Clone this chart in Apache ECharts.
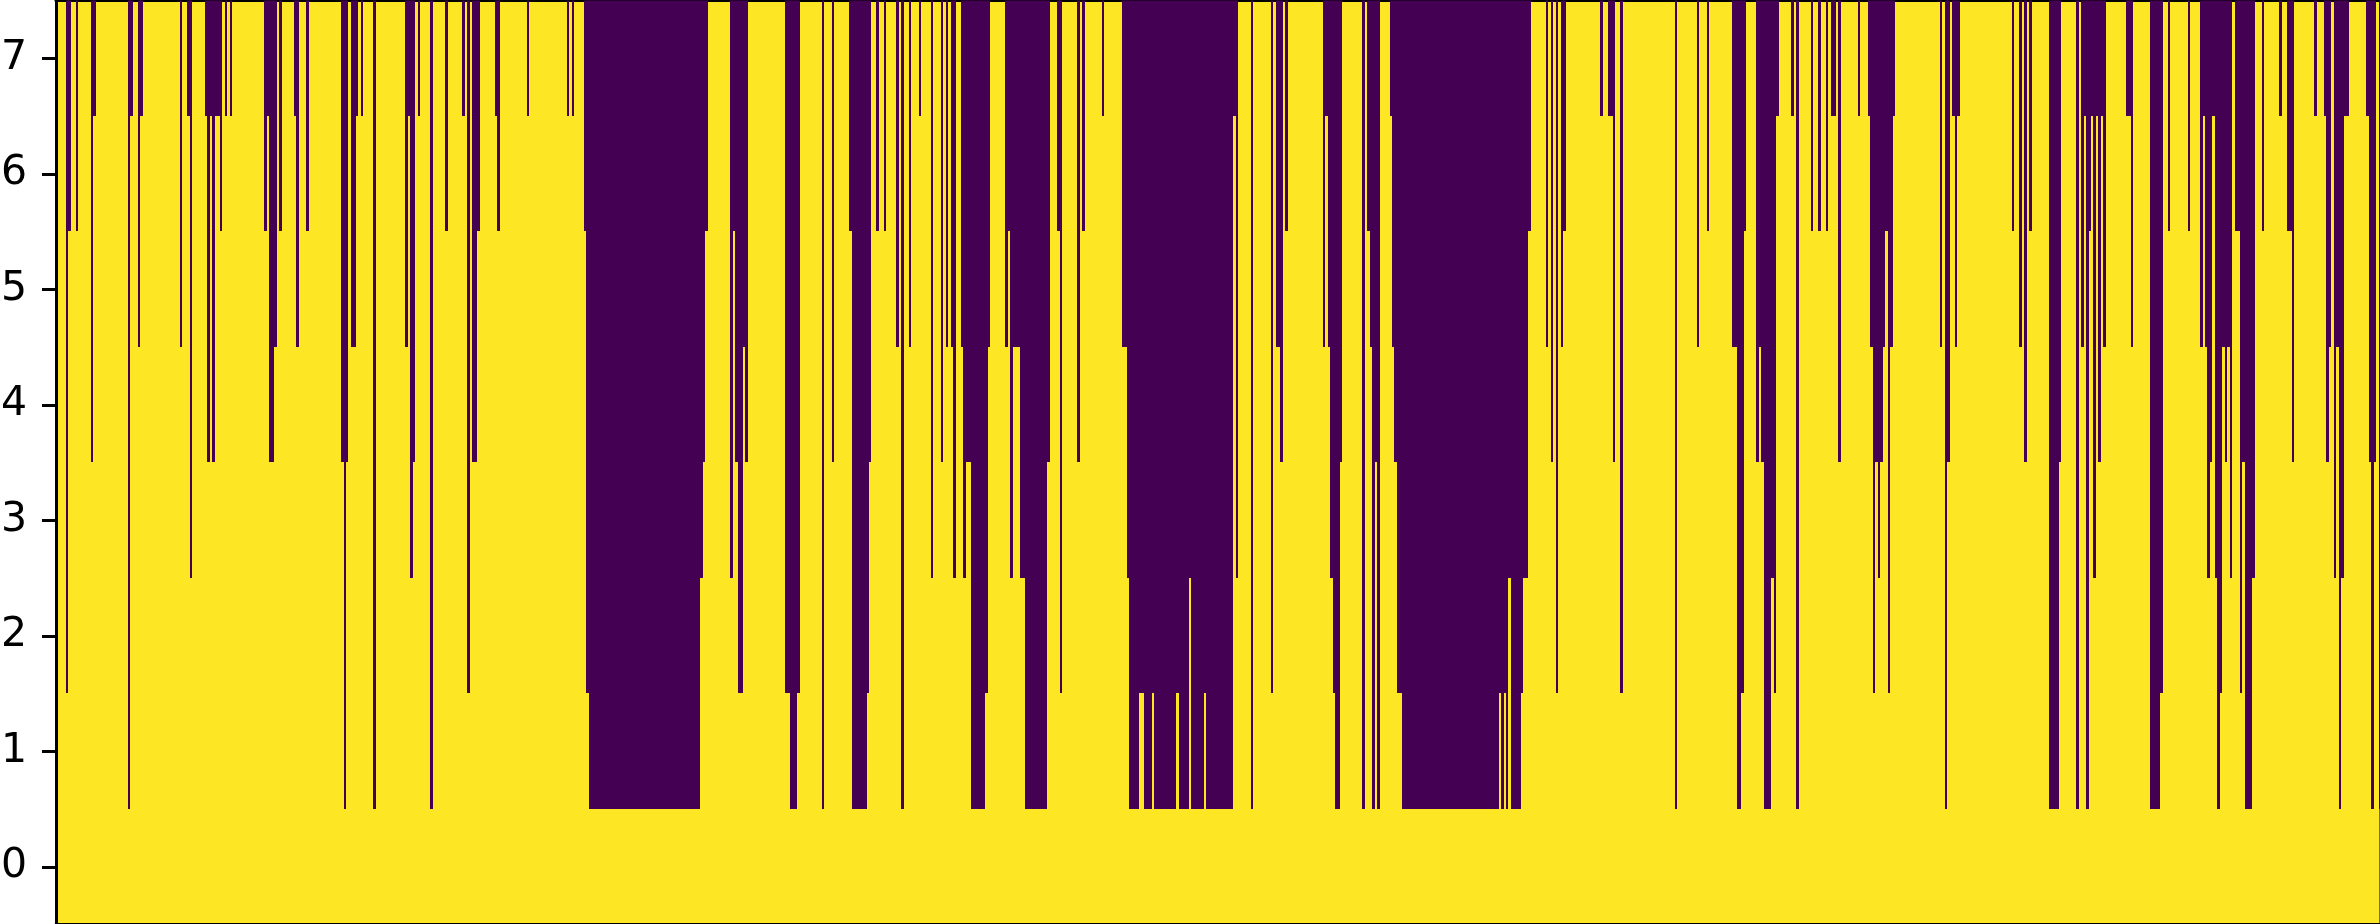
<!DOCTYPE html>
<html>
<head>
<meta charset="utf-8">
<style>html,body{margin:0;padding:0;background:#fff;overflow:hidden}#c{width:2380px;height:924px}</style>
<script src="https://cdn.jsdelivr.net/npm/echarts@6/dist/echarts.min.js"></script>
</head>
<body>
<div id="c"></div>
<script>
const rowLabels = [0, 1, 2, 3, 4, 5, 6, 7];
// Spans along the horizontal axis whose cells are off (dark), from the top row down to the named row.
const offDownToRow1 = [[128,130],[344,346],[373,376],[430,433],[589,700],[790,797],[822,824],[852,867],[901,904],[971,985],[1025,1047],[1129,1139],[1144,1152],[1154,1176],[1179,1189],[1191,1204],[1206,1233],[1251,1253],[1335,1340],[1362,1365],[1372,1375],[1377,1380],[1402,1499],[1501,1504],[1506,1508],[1511,1521],[1675,1677],[1737,1741],[1764,1771],[1796,1799],[1945,1947],[2049,2059],[2076,2079],[2086,2089],[2150,2160],[2217,2220],[2245,2252],[2339,2341],[2371,2374],[2379,2380]];
const offDownToRow2 = [[66,68],[467,470],[586,589],[738,743],[785,790],[797,800],[867,869],[985,988],[1060,1062],[1139,1144],[1152,1154],[1176,1179],[1204,1206],[1271,1273],[1333,1335],[1397,1402],[1499,1501],[1504,1506],[1521,1523],[1556,1558],[1620,1623],[1741,1744],[1774,1776],[1873,1875],[1888,1890],[2160,2163],[2220,2222],[2240,2242]];
const offDownToRow3 = [[190,192],[410,413],[700,703],[730,733],[931,933],[953,956],[963,966],[1010,1013],[1020,1025],[1127,1129],[1189,1191],[1236,1238],[1330,1333],[1508,1511],[1523,1528],[1771,1774],[1878,1880],[2093,2096],[2207,2210],[2215,2217],[2230,2232],[2252,2255],[2334,2336],[2341,2344]];
const offDownToRow4 = [[91,93],[207,210],[212,215],[269,274],[341,344],[346,348],[413,415],[472,477],[703,705],[735,738],[745,748],[832,834],[869,871],[941,943],[966,971],[1047,1050],[1077,1080],[1280,1283],[1340,1342],[1375,1377],[1394,1397],[1551,1553],[1613,1615],[1756,1759],[1761,1764],[1838,1841],[1875,1878],[1880,1883],[1947,1950],[2024,2027],[2059,2061],[2098,2101],[2210,2212],[2225,2227],[2242,2245],[2292,2294],[2326,2329],[2369,2371],[2374,2376]];
const offDownToRow5 = [[138,140],[180,182],[274,277],[296,299],[351,356],[405,408],[743,745],[896,899],[909,911],[946,948],[951,953],[961,963],[988,990],[1005,1008],[1013,1020],[1122,1127],[1276,1280],[1323,1325],[1328,1330],[1370,1372],[1392,1394],[1546,1548],[1561,1563],[1697,1699],[1732,1737],[1759,1761],[1870,1873],[1883,1885],[1890,1893],[1940,1942],[1955,1957],[2019,2022],[2081,2084],[2103,2106],[2131,2133],[2200,2203],[2205,2207],[2222,2225],[2227,2230],[2329,2331],[2336,2339]];
const offDownToRow6 = [[68,71],[76,78],[220,222],[264,267],[279,282],[306,309],[445,448],[477,480],[497,500],[584,586],[705,708],[733,735],[849,852],[876,879],[884,886],[1008,1010],[1057,1060],[1082,1085],[1285,1288],[1367,1370],[1528,1531],[1563,1566],[1707,1709],[1744,1746],[1811,1813],[1818,1821],[1826,1828],[1885,1888],[2012,2014],[2029,2032],[2089,2091],[2168,2170],[2188,2190],[2235,2240],[2262,2264],[2287,2292]];
const offDownToRow7 = [[93,96],[130,133],[140,143],[187,190],[205,207],[210,212],[215,220],[225,227],[230,232],[267,269],[294,296],[356,358],[361,363],[408,410],[418,420],[462,465],[495,497],[527,529],[567,569],[572,574],[919,921],[1102,1104],[1233,1236],[1325,1328],[1390,1392],[1600,1603],[1608,1613],[1776,1779],[1791,1794],[1831,1836],[1858,1860],[1868,1870],[1893,1895],[1952,1955],[1957,1960],[2084,2086],[2091,2093],[2096,2098],[2101,2103],[2126,2131],[2203,2205],[2212,2215],[2279,2282],[2314,2317],[2324,2326],[2344,2349],[2366,2369]];

const ON = '#fde725', OFF = '#440154';
const spans = [];
[offDownToRow1, offDownToRow2, offDownToRow3, offDownToRow4, offDownToRow5, offDownToRow6, offDownToRow7]
  .forEach((list, i) => list.forEach(s => spans.push([s[0], s[1], i + 1])));

const xRange = { min: 56, max: 2380 };
const yRange = { min: -0.5, max: 7.5 };
const chart = echarts.init(document.getElementById('c'), null, { renderer: 'canvas' });
const line = { show: true, onZero: false, lineStyle: { color: '#000', width: 3 } };
chart.setOption({
  animation: false,
  backgroundColor: '#fff',
  grid: { show: true, left: 56, top: 0.5, width: 2324, height: 924, backgroundColor: ON, borderWidth: 0, outerBoundsMode: 'none' },
  xAxis: [
    Object.assign({ type: 'value', position: 'bottom', axisLine: line, axisTick: { show: false }, axisLabel: { show: false }, splitLine: { show: false } }, xRange),
    Object.assign({ type: 'value', position: 'top', axisLine: line, axisTick: { show: false }, axisLabel: { show: false }, splitLine: { show: false } }, xRange)
  ],
  yAxis: [
    Object.assign({
      type: 'value', position: 'left', axisLine: line,
      axisTick: { show: true, length: 14, lineStyle: { color: '#000', width: 3 }, customValues: rowLabels },
      axisLabel: { show: true, customValues: rowLabels, margin: 29, color: '#000', fontFamily: 'DejaVu Sans', fontSize: 41 },
      splitLine: { show: false }
    }, yRange),
    Object.assign({
      type: 'value', position: 'right',
      axisLine: { show: true, onZero: false, lineStyle: { color: 'rgba(0,0,0,0.5)', width: 2 } },
      axisTick: { show: false }, axisLabel: { show: false }, splitLine: { show: false }
    }, yRange)
  ],
  series: [{
    type: 'custom',
    xAxisIndex: 0, yAxisIndex: 0,
    coordinateSystem: 'cartesian2d',
    clip: true,
    data: spans,
    encode: { x: [0, 1], y: 2 },
    renderItem: (params, api) => {
      const a = api.coord([api.value(0), yRange.max]);
      const b = api.coord([api.value(1), api.value(2) - 0.5]);
      const x = Math.round(a[0]), y = Math.round(a[1] - 0.01);
      return {
        type: 'rect',
        shape: { x: x, y: y, width: Math.round(b[0]) - x, height: Math.round(b[1] - 0.01) - y },
        style: { fill: OFF }
      };
    }
  }]
});
</script>
</body>
</html>
